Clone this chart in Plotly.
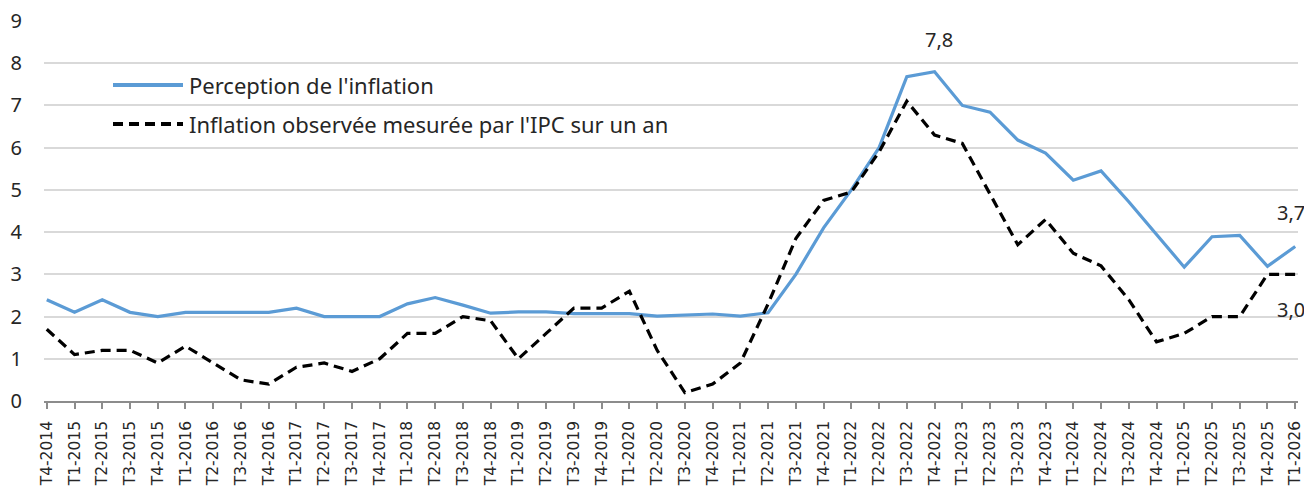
import plotly.graph_objects as go

quarters = [
    "T4-2014",
    "T1-2015", "T2-2015", "T3-2015", "T4-2015",
    "T1-2016", "T2-2016", "T3-2016", "T4-2016",
    "T1-2017", "T2-2017", "T3-2017", "T4-2017",
    "T1-2018", "T2-2018", "T3-2018", "T4-2018",
    "T1-2019", "T2-2019", "T3-2019", "T4-2019",
    "T1-2020", "T2-2020", "T3-2020", "T4-2020",
    "T1-2021", "T2-2021", "T3-2021", "T4-2021",
    "T1-2022", "T2-2022", "T3-2022", "T4-2022",
    "T1-2023", "T2-2023", "T3-2023", "T4-2023",
    "T1-2024", "T2-2024", "T3-2024", "T4-2024",
    "T1-2025", "T2-2025", "T3-2025", "T4-2025",
    "T1-2026",
]

perception = [
    2.4,
    2.1, 2.4, 2.1, 2.0,
    2.1, 2.1, 2.1, 2.1,
    2.2, 2.0, 2.0, 2.0,
    2.3, 2.45, 2.27, 2.08,
    2.11, 2.11, 2.07, 2.07,
    2.07, 2.01, 2.04, 2.06,
    2.01, 2.09, 3.0, 4.1,
    5.0, 6.0, 7.68, 7.8,
    7.0, 6.84, 6.18, 5.87,
    5.23, 5.45, 4.72, 3.95,
    3.17, 3.89, 3.92, 3.19,
    3.66,
]

ipc = [
    1.7,
    1.1, 1.2, 1.2, 0.9,
    1.3, 0.9, 0.5, 0.4,
    0.8, 0.9, 0.7, 1.0,
    1.6, 1.6, 2.0, 1.9,
    1.0, 1.6, 2.2, 2.2,
    2.6, 1.2, 0.2, 0.4,
    0.9, 2.3, 3.85, 4.75,
    4.95, 5.9, 7.1, 6.3,
    6.1, 4.9, 3.7, 4.3,
    3.5, 3.2, 2.4, 1.4,
    1.6, 2.0, 2.0, 3.0,
    3.0,
]

series_names = ["Perception de l'inflation", "Inflation observée mesurée par l'IPC sur un an"]
y_ticks = list(range(0, 10))

BLUE = "#5B9BD5"
TEXT = "#262626"
FONT = "Noto Sans"

# the page body has an 8px margin, so the figure starts at (8, 8)
OFF = 8
W, H = 1312 - OFF, 489 - OFF
L, R, T, B = 44 - OFF, 14, 21 - OFF, 88
PW = W - L - R
PH = H - T - B
PX0, PY0 = 44, 21  # plot-area top-left in page pixels

fig = go.Figure()
fig.add_trace(go.Scatter(
    x=quarters, y=perception, mode="lines", name=series_names[0],
    line=dict(color=BLUE, width=3.2), showlegend=False,
))
fig.add_trace(go.Scatter(
    x=quarters, y=ipc, mode="lines", name=series_names[1],
    line=dict(color="black", width=3.2, dash="10px,6px"), showlegend=False,
))

def fmt(v):
    return f"{v:.1f}".replace(".", ",")

i_max = max(range(len(perception)), key=lambda i: perception[i])
annots = [
    dict(x=quarters[i_max], y=perception[i_max], text=fmt(perception[i_max]), yshift=32, xshift=4),
    dict(x=quarters[-1], y=perception[-1], text=fmt(perception[-1]), yshift=34, xshift=-4),
    dict(x=quarters[-1], y=ipc[-1], text=fmt(ipc[-1]), yshift=-35, xshift=-4),
]
for a in annots:
    fig.add_annotation(xref="x", yref="y", showarrow=False,
                       font=dict(family=FONT, size=20, color=TEXT), **a)

# legend (drawn manually to match the long sample lines)
legend_rows = [(85, BLUE, "solid"), (124, "black", "10px,6px")]
for (ypx, col, dash), name in zip(legend_rows, series_names):
    yp = 1 - (ypx - PY0) / PH
    fig.add_shape(type="line", xref="paper", yref="paper",
                  x0=(113 - PX0) / PW, x1=(183 - PX0) / PW,
                  y0=yp, y1=yp, line=dict(color=col, width=4, dash=dash))
    fig.add_annotation(xref="paper", yref="paper", x=(187 - PX0) / PW, y=yp,
                       xanchor="left", yanchor="middle", showarrow=False, text=name,
                       font=dict(family=FONT, size=22, color=TEXT))

fig.update_layout(
    width=W, height=H,
    margin=dict(l=L, r=R, t=T, b=B),
    paper_bgcolor="white", plot_bgcolor="white",
    separators=", ",
    showlegend=False,
)
fig.update_xaxes(
    type="category", range=[-0.1, len(quarters) - 0.9], automargin=False,
    tickangle=-90, tickfont=dict(family="DejaVu Sans", size=15.5, color=TEXT),
    showline=True, linecolor="#8c8c8c", linewidth=1.5,
    ticks="outside", ticklen=6, tickcolor="#8c8c8c", tickwidth=1.5,
    ticklabelstandoff=6,
    showgrid=False, zeroline=False,
)
fig.update_yaxes(
    range=[0, 9], tickvals=y_ticks, ticktext=[str(v) for v in y_ticks], automargin=False,
    tickfont=dict(family=FONT, size=20, color=TEXT), ticklabeloverflow="allow",
    showgrid=True, gridcolor="#d9d9d9", gridwidth=1.5,
    zeroline=False, showline=False, ticklabelstandoff=21,
)

fig.write_html("out.html")
